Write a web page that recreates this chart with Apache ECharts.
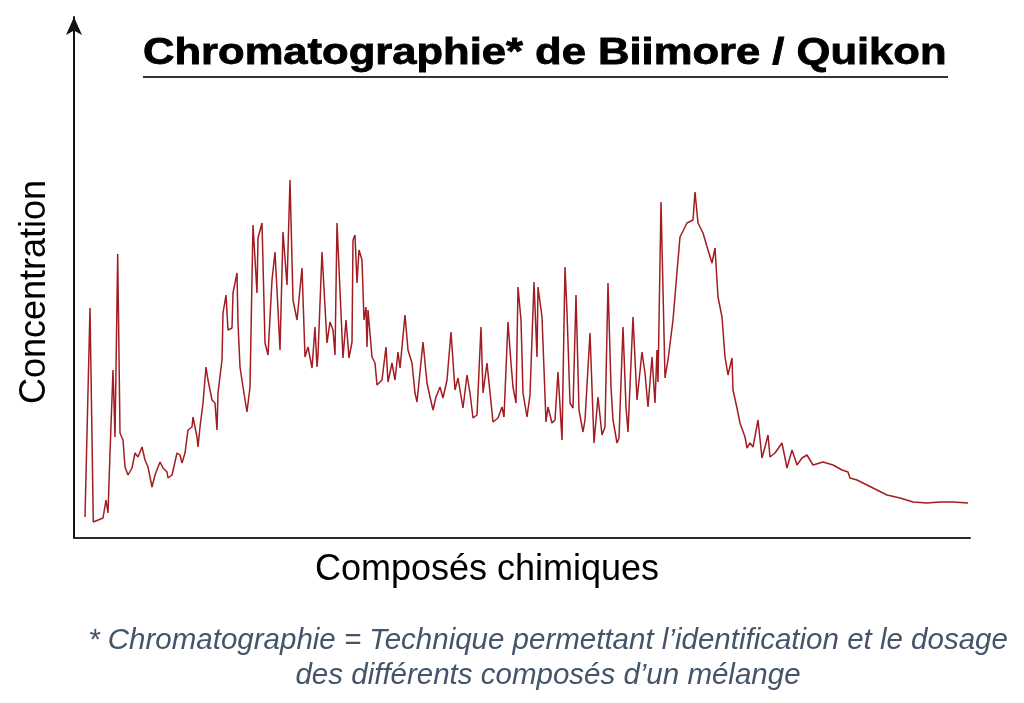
<!DOCTYPE html>
<html>
<head>
<meta charset="utf-8">
<script src="https://cdn.jsdelivr.net/npm/echarts@6/dist/echarts.min.js"></script>
<style>
html,body{margin:0;padding:0;background:#fff;}
#chart{width:1024px;height:703px;}
</style>
</head>
<body>
<div id="chart"></div>
<script>
const titleText = 'Chromatographie* de Biimore / Quikon';
const xAxisLabel = 'Composés chimiques';
const yAxisLabel = 'Concentration';
const footnoteLines = ['* Chromatographie = Technique permettant l’identification et le dosage', 'des différents composés d’un mélange'];

// retention position (arbitrary units)
const retention = [
  11,12.7,16,19.3,21,29,32,34,36,39,41,43.7,46,49,51,54,58,61,64,68,71,74,78,81,86,89,93,94,98,
  103,106,108,111,114,118,119,123,124,126,129,132,134,138,141,143,144,148,149,152,154,158,159,163,164,166,169,173,176,179,183,184,188,191,194,198,201,203,206,209,213,216,219,223,228,
  231,234,238,241,243,244,248,253,256,259,261,263,269,272,275,278,279,281,283,285,288,290,292,293,294,298,
  301,303,308,312,314,318,321,324,326,331,334,338,341,343,349,353,356,359,362,366,369,373,377,381,384,389,393,396,399,
  403,407,409,413,419,424,428,430,434,437,439,442,444,447,449,453,456,460,463,464,468,472,474,478,481,484,488,491,493,496,499,
  502,505,509,511,516,520,524,528,531,534,537,539,543,545,549,552,554,559,563,568,571,574,578,581,583,584,587,591,594,599,
  603,606,613,619,621,624,629,634,638,641,644,648,651,654,658,659,663,666,671,673,676,679,684,688,691,694,696,701,
  708,713,718,723,728,733,739,749,759,768,774,776,783,793,803,813,826,839,853,866,879,894
];
// concentration (arbitrary units)
const concentration = [
  21,20,230,16,16,20,38,25,85,168,101,284,105,98,71,63,70,85,81,91,78,71,51,63,76,70,66,60,63,
  85,83,75,85,108,111,121,101,91,111,135,171,158,138,135,108,145,178,225,243,208,210,245,265,215,171,151,126,151,313,245,300,315,195,183,258,286,248,188,306,253,358,238,218,270,
  181,191,170,211,171,183,286,195,216,208,183,315,180,218,180,196,298,303,255,288,278,218,231,191,228,181,
  175,153,158,191,156,175,158,186,170,223,188,175,145,136,196,155,141,128,141,151,140,158,206,148,160,130,163,145,120,
  123,211,145,175,116,120,131,121,216,175,151,135,251,218,145,121,143,256,181,251,221,116,131,115,118,166,98,271,226,135,130,
  243,128,106,118,205,95,141,103,111,255,151,118,95,100,211,131,106,221,138,186,165,131,181,135,188,156,336,160,178,218,
  266,301,315,318,346,315,305,288,275,290,241,221,181,163,180,148,130,115,101,90,95,91,118,80,91,103,81,85,
  95,70,88,73,80,83,73,76,73,68,66,60,58,53,48,43,40,36,35,36,36,35
];

const seriesData = retention.map((x, i) => [x, concentration[i]]);

const chart = echarts.init(document.getElementById('chart'), null, {renderer: 'canvas'});
const axisColor = '#2b2b2b';
chart.setOption({
  animation: false,
  backgroundColor: '#ffffff',
  grid: {left: 74, right: 54, top: 17, bottom: 165, containLabel: false},
  xAxis: {
    type: 'value', min: 0, max: 896,
    axisLine: {show: true, onZero: false, lineStyle: {color: axisColor, width: 2}},
    axisTick: {show: false}, axisLabel: {show: false}, splitLine: {show: false}
  },
  yAxis: {
    type: 'value', min: 0, max: 521,
    axisLine: {show: true, symbol: ['none', 'arrow'], symbolSize: [12, 18], symbolOffset: [0, 0], lineStyle: {color: '#111', width: 2}},
    axisTick: {show: false}, axisLabel: {show: false}, splitLine: {show: false}
  },
  series: [{
    type: 'line',
    data: seriesData,
    showSymbol: false,
    smooth: false,
    lineStyle: {color: '#a11d22', width: 1.5},
    z: 3
  }],
  graphic: [
    {type: 'text', x: 143, y: 36, scaleX: 1.21, style: {text: titleText, font: 'bold 36px "Liberation Sans", Arial, sans-serif', fill: '#000', stroke: '#000', lineWidth: 0.8, verticalAlign: 'top'}},
    {type: 'rect', shape: {x: 143, y: 76, width: 805, height: 2}, style: {fill: '#333'}},
    {type: 'text', x: 487, y: 570, style: {text: xAxisLabel, font: '36px "Liberation Sans", Arial, sans-serif', fill: '#000', align: 'center', verticalAlign: 'middle'}},
    {type: 'text', x: 35, y: 292, rotation: Math.PI / 2, style: {text: yAxisLabel, font: '36px "Liberation Sans", Arial, sans-serif', fill: '#000', align: 'center', verticalAlign: 'middle'}},
    {type: 'text', x: 548, y: 641, style: {text: footnoteLines[0], font: 'italic 29.5px "Liberation Sans", sans-serif', fill: '#44546a', align: 'center', verticalAlign: 'middle'}},
    {type: 'text', x: 548, y: 676, style: {text: footnoteLines[1], font: 'italic 29.5px "Liberation Sans", sans-serif', fill: '#44546a', align: 'center', verticalAlign: 'middle'}}
  ]
});
</script>
</body>
</html>
